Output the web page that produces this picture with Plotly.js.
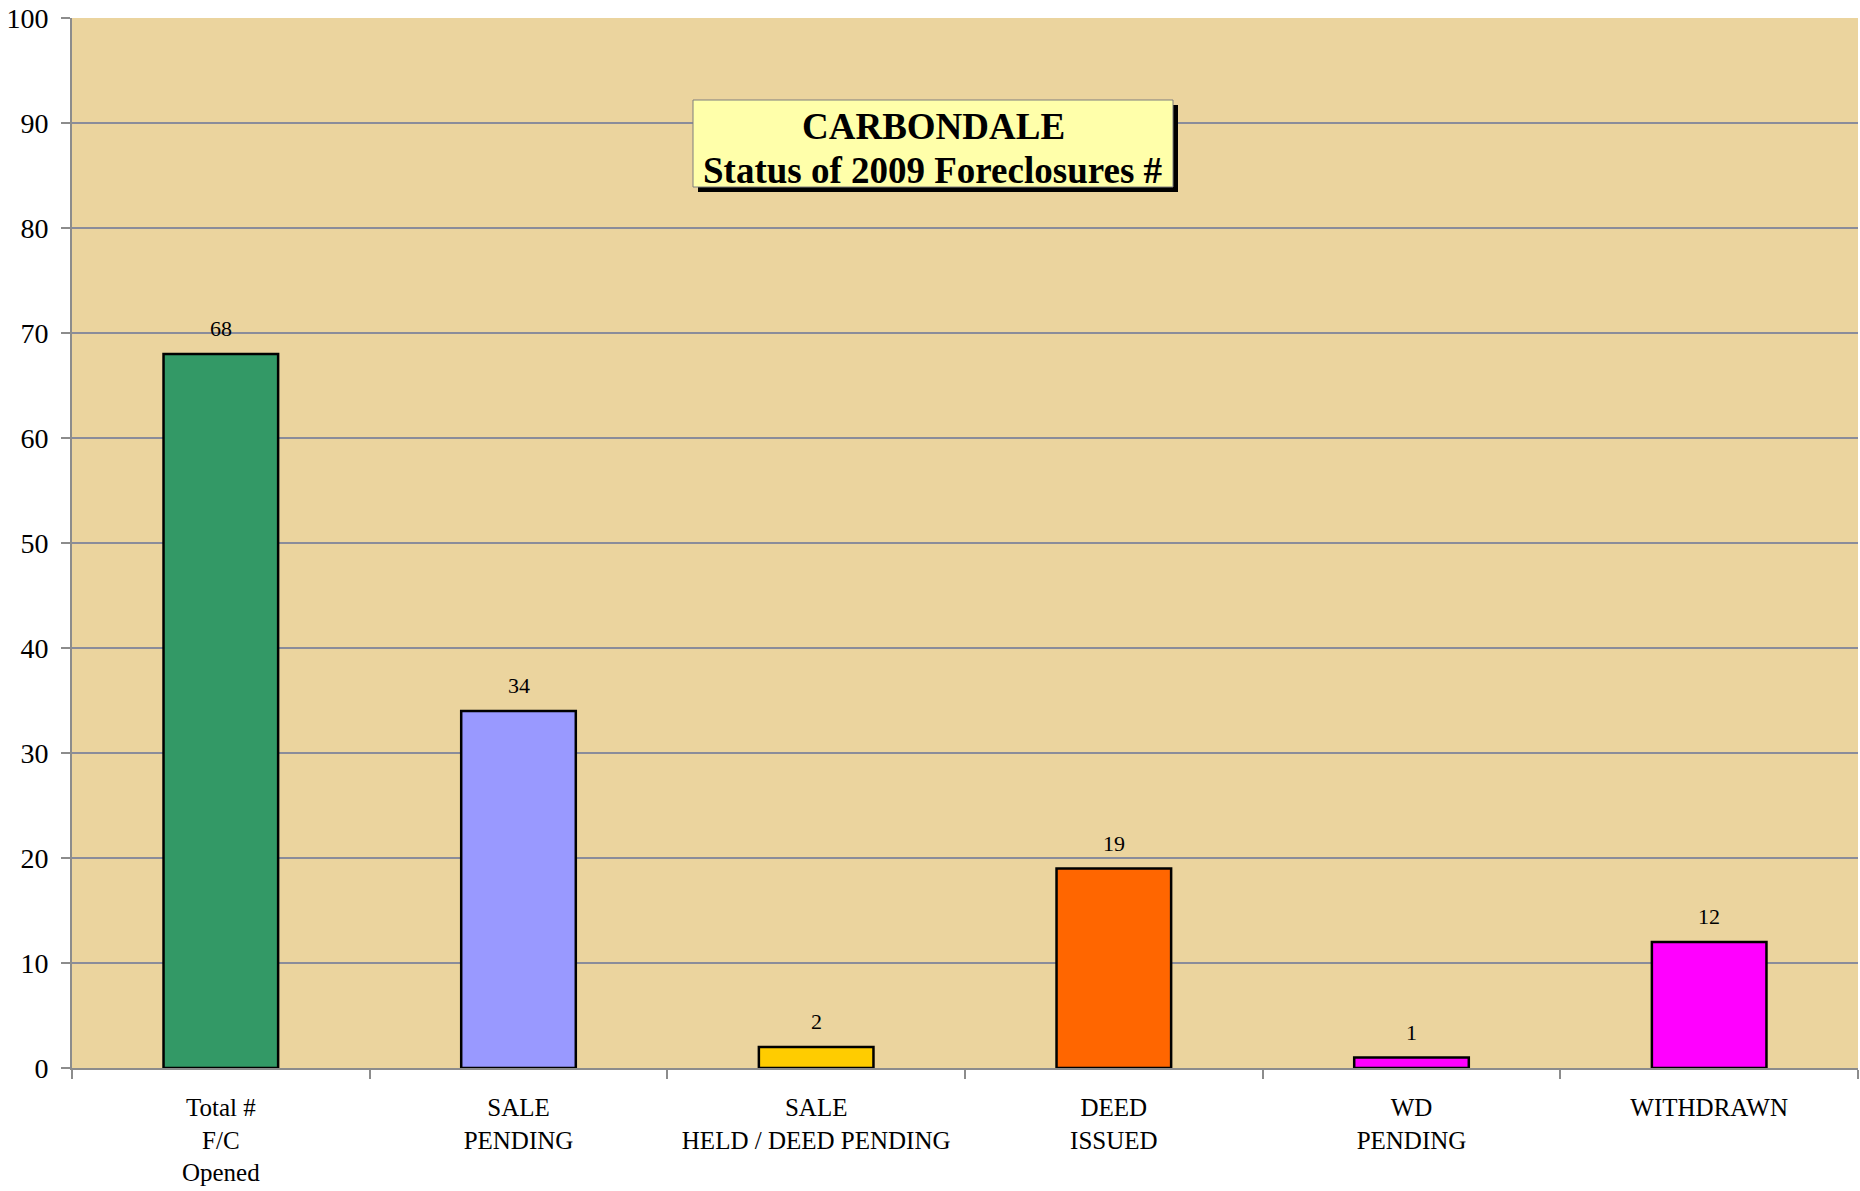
<!DOCTYPE html>
<html>
<head>
<meta charset="utf-8">
<script src="https://cdn.plot.ly/plotly-3.0.1.min.js"></script>
<style>
html,body{margin:0;padding:0;background:#fff;}
#chart{width:1860px;height:1191px;}
</style>
</head>
<body>
<div id="chart"></div>
<script>
const categories = ["Total #<br>F/C<br>Opened", "SALE<br>PENDING", "SALE<br>HELD / DEED PENDING", "DEED<br>ISSUED", "WD<br>PENDING", "WITHDRAWN"];
const values = [68, 34, 2, 19, 1, 12];
const barColors = ["#339966", "#9999FF", "#FFCC00", "#FF6600", "#FF00FF", "#FF00FF"];
const titleLines = ["CARBONDALE", "Status of 2009 Foreclosures #"];

const serif = "Liberation Serif, Times New Roman, serif";

const trace = {
  type: "bar",
  x: categories,
  y: values,
  marker: {color: barColors, line: {color: "#000000", width: 2.5}},
  width: 0.385,
  hoverinfo: "x+y"
};

const valueLabels = categories.map((c, i) => ({
  x: c, y: values[i], xref: "x", yref: "y",
  text: String(values[i]), showarrow: false,
  xanchor: "center", yanchor: "bottom", yshift: 11,
  font: {family: serif, size: 22, color: "#000000"}
}));

const px = v => (v - 72) / 1786;
const py = v => (1068 - v) / 1050;

const layout = {
  width: 1860,
  height: 1191,
  margin: {l: 72, r: 2, t: 18, b: 123},
  paper_bgcolor: "#FFFFFF",
  plot_bgcolor: "#EBD49E",
  showlegend: false,
  xaxis: {
    type: "category",
    tickson: "boundaries",
    tickangle: 0,
    ticks: "outside",
    ticklen: 9,
    tickwidth: 2,
    tickcolor: "#8C8C8C",
    showline: true,
    linecolor: "#8C8C8C",
    linewidth: 2,
    showgrid: false,
    tickfont: {family: serif, size: 25, color: "#000000"},
    ticklabelstandoff: 16
  },
  yaxis: {
    range: [0, 100],
    dtick: 10,
    ticks: "outside",
    ticklen: 9,
    tickwidth: 2,
    tickcolor: "#8C8C8C",
    showline: true,
    linecolor: "#8C8C8C",
    linewidth: 2,
    showgrid: true,
    gridcolor: "#8A8C9A",
    gridwidth: 1.5,
    zeroline: false,
    tickfont: {family: serif, size: 28, color: "#000000"},
    ticklabelstandoff: 7
  },
  shapes: [
    {type: "rect", xref: "paper", yref: "paper", x0: px(698), x1: px(1178), y0: py(192), y1: py(105),
     fillcolor: "#000000", line: {width: 0}, layer: "above"},
    {type: "rect", xref: "paper", yref: "paper", x0: px(693), x1: px(1173), y0: py(187), y1: py(100),
     fillcolor: "#FFFFAA", line: {color: "#7F7F7F", width: 1}, layer: "above"}
  ],
  annotations: valueLabels.concat([
    {xref: "paper", yref: "paper", x: px(933), y: py(126), xanchor: "center", yanchor: "middle",
     showarrow: false, text: "<b>" + titleLines[0] + "</b>",
     font: {family: serif, size: 37, color: "#000000"}},
    {xref: "paper", yref: "paper", x: px(933), y: py(170), xanchor: "center", yanchor: "middle",
     showarrow: false, text: "<b>" + titleLines[1] + "</b>",
     font: {family: serif, size: 37, color: "#000000"}}
  ])
};

Plotly.newPlot("chart", [trace], layout, {displayModeBar: false, staticPlot: true});
</script>
</body>
</html>
